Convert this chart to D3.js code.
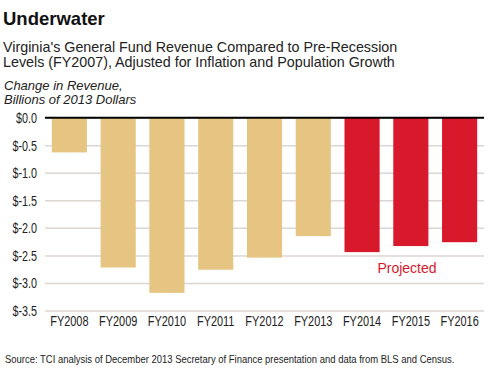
<!DOCTYPE html>
<html><head><meta charset="utf-8">
<script src="https://cdn.jsdelivr.net/npm/d3@7"></script>
<style>
body{margin:0;background:#fff;}
text{font-family:"Liberation Sans",Arial,sans-serif;}
</style></head>
<body><svg id="c" width="500" height="382"></svg>
<script>
const categories = ["FY2008","FY2009","FY2010","FY2011","FY2012","FY2013","FY2014","FY2015","FY2016"];
const values = [-0.63,-2.72,-3.18,-2.76,-2.54,-2.15,-2.44,-2.33,-2.26];
const projected = [false,false,false,false,false,false,true,true,true];
const yTicks = [0,-0.5,-1.0,-1.5,-2.0,-2.5,-3.0,-3.5];

const svg = d3.select("#c");
const x = d3.scaleBand().domain(categories).range([45,484]).paddingInner(0.28).paddingOuter(0.14);
const y = d3.scaleLinear().domain([0,-3.5]).range([117.7,310.5]);

function condense(sel, factor){
  sel.each(function(){
    const w = this.getComputedTextLength();
    d3.select(this).attr("textLength", w*factor).attr("lengthAdjust","spacingAndGlyphs");
  });
}

svg.append("text").attr("x",3).attr("y",25).attr("font-size",18.5).attr("font-weight","bold").attr("fill","#111").text("Underwater");
svg.append("text").attr("x",3).attr("y",52).attr("font-size",14.3).attr("fill","#222").text("Virginia's General Fund Revenue Compared to Pre-Recession");
svg.append("text").attr("x",3).attr("y",67).attr("font-size",14.3).attr("fill","#222").text("Levels (FY2007), Adjusted for Inflation and Population Growth");
svg.append("text").attr("x",4).attr("y",90).attr("font-size",13).attr("font-style","italic").attr("fill","#222").text("Change in Revenue,");
svg.append("text").attr("x",4).attr("y",104).attr("font-size",13).attr("font-style","italic").attr("fill","#222").text("Billions of 2013 Dollars");

// gridlines
const yAxis = d3.axisLeft(y).tickValues(yTicks).tickSize(-(484-45)).tickPadding(8)
  .tickFormat(d => "$" + d3.format(".1f")(d).replace("−","-"));
const gy = svg.append("g").attr("transform","translate(45,0)").call(yAxis);
gy.select(".domain").remove();
gy.selectAll(".tick line").attr("stroke","#dcd6d3").attr("stroke-width",1.5);
gy.selectAll(".tick text").attr("font-size",14).attr("fill","#222").attr("x",-8).attr("dy","0.35em").attr("font-family","Liberation Sans, Arial, sans-serif");
condense(gy.selectAll(".tick text"), 0.77);

svg.append("g").selectAll("rect").data(categories).join("rect")
  .attr("x",d=>x(d)).attr("width",x.bandwidth())
  .attr("y",y(0)).attr("height",(d,i)=>y(values[i])-y(0))
  .attr("fill",(d,i)=>projected[i]?"#d8182b":"#e6c582");

svg.append("line").attr("x1",45).attr("x2",484).attr("y1",y(0)).attr("y2",y(0)).attr("stroke","#000").attr("stroke-width",2);

const xAxis = d3.axisBottom(x).tickSize(0).tickPadding(6);
const gx = svg.append("g").attr("transform",`translate(0,${y(-3.5)})`).call(xAxis);
gx.select(".domain").remove();
gx.selectAll(".tick text").attr("font-size",14).attr("fill","#222").attr("font-family","Liberation Sans, Arial, sans-serif");
condense(gx.selectAll(".tick text"), 0.78);

svg.append("text").attr("x",407).attr("y",273).attr("text-anchor","middle").attr("font-size",14).attr("fill","#d8182b").text("Projected");

const src = svg.append("text").attr("x",0).attr("y",0).attr("font-size",11).attr("fill","#222")
  .text("Source: TCI analysis of December 2013 Secretary of Finance presentation and data from BLS and Census.");
const sw = src.node().getComputedTextLength();
src.attr("transform",`translate(5,363) scale(${450/sw},1)`);
</script></body></html>
